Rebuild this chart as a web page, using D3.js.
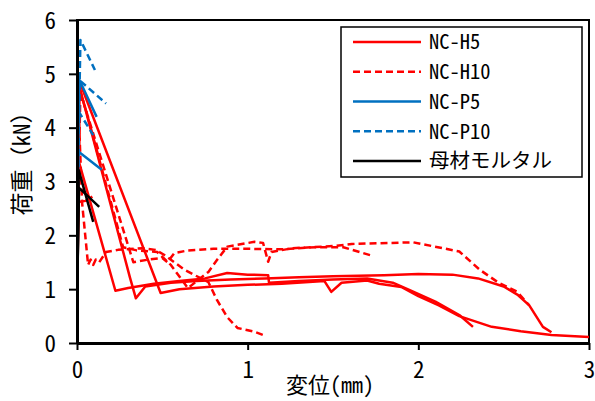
<!DOCTYPE html>
<html>
<head>
<meta charset="utf-8">
<script src="https://cdn.jsdelivr.net/npm/d3@7"></script>
<style>
  body { margin: 0; background: #fff; }
  text { font-family: "Noto Sans Mono CJK JP", "Noto Sans CJK JP", sans-serif; fill: #000; }
</style>
</head>
<body>
<svg id="chart" width="595" height="401"></svg>
<script>
// Load–displacement curves (displacement in mm, load in kN)
const xTicks = [0, 1, 2, 3];
const yTicks = [0, 1, 2, 3, 4, 5, 6];
const seriesNames = ["NC-H5", "NC-H10", "NC-P5", "NC-P10", "母材モルタル"];

// NC-H5 specimens
const h5a = [[0,0],[0.004,1.8],[0.01,3.38],[0.225,0.97],[0.3,1.02],[0.45,1.1],[0.6,1.15],[0.75,1.2],[0.88,1.3],[1.0,1.27],[1.12,1.26],[1.125,1.12],[1.3,1.15],[1.5,1.18],[1.7,1.2],[1.85,1.12],[1.95,0.98],[2.1,0.77],[2.24,0.52],[2.32,0.3]];
const h5b = [[0,0],[0.005,2.5],[0.012,4.88],[0.49,0.93],[0.6,1.0],[0.8,1.05],[1.0,1.08],[1.2,1.1],[1.45,1.15],[1.49,0.95],[1.55,1.12],[1.7,1.16],[1.77,1.1],[1.9,1.04],[2.0,0.87],[2.12,0.7],[2.24,0.5],[2.43,0.3],[2.6,0.22],[2.78,0.15],[3.0,0.11]];
const h5c = [[0,0],[0.006,2.4],[0.015,4.75],[0.31,1.22],[0.345,0.83],[0.4,1.05],[0.55,1.12],[0.7,1.15],[0.9,1.18],[1.1,1.2],[1.3,1.22],[1.5,1.24],[1.8,1.26],[2.0,1.28],[2.2,1.27],[2.35,1.2],[2.5,1.05],[2.58,0.9],[2.65,0.7],[2.73,0.3],[2.78,0.2]];
const h5d = [[0,0],[0.004,1.5],[0.008,2.62],[0.05,2.64],[0.09,2.72]];

// NC-H10 specimens
const h10a = [[0,0],[0.003,2.5],[0.006,4.6],[0.03,2.6],[0.065,1.45],[0.08,1.55],[0.095,1.45],[0.11,1.55],[0.13,1.5],[0.17,1.69],[0.24,1.73],[0.38,1.76],[0.46,1.73],[0.51,1.64],[0.57,1.5],[0.63,1.36],[0.69,1.26],[0.77,1.13],[0.82,0.8],[0.88,0.48],[0.94,0.28],[1.04,0.21],[1.09,0.15]];
const h10b = [[0,0],[0.004,2.5],[0.01,4.8],[0.04,4.45],[0.33,1.5],[0.42,1.55],[0.5,1.58],[0.53,1.5],[0.57,1.67],[0.65,1.72],[0.8,1.75],[1.0,1.75],[1.2,1.74],[1.4,1.78],[1.56,1.78],[1.73,1.62]];
const h10c = [[0,0],[0.005,2.5],[0.02,4.65],[0.05,4.35],[0.27,1.78],[0.35,1.72],[0.47,1.69],[0.55,1.45],[0.65,1.02],[0.71,1.17],[0.77,1.32],[0.82,1.54],[0.88,1.79],[1.04,1.88],[1.09,1.86],[1.12,1.51],[1.14,1.69],[1.26,1.76],[1.5,1.8],[1.61,1.84],[1.97,1.87],[2.24,1.7],[2.36,1.36],[2.47,1.12],[2.58,0.95],[2.65,0.7]];

// NC-P5 specimens
const p5a = [[0,0],[0.004,2.5],[0.012,4.9],[0.115,4.2]];
const p5b = [[0,0],[0.003,2.0],[0.006,3.56],[0.145,3.22]];

// NC-P10 specimens
const p10a = [[0,0],[0.005,3.0],[0.02,5.63],[0.105,5.07]];
const p10b = [[0,0],[0.005,3.0],[0.015,4.88],[0.17,4.45]];
const p10c = [[0,0],[0.004,2.5],[0.01,4.3],[0.095,3.86]];

// Base mortar specimens
const ma = [[0,0],[0.004,1.5],[0.01,3.21],[0.095,2.25]];
const mb = [[0,0],[0.004,1.5],[0.012,2.88],[0.13,2.53]];

const seriesCurves = [
  [h5a, h5b, h5c, h5d],
  [h10a, h10b, h10c],
  [p5a, p5b],
  [p10a, p10b, p10c],
  [ma, mb]
];
const seriesColors = ["#ff0000", "#ff0000", "#0070c0", "#0070c0", "#000000"];
const seriesDash = [null, "7,4", null, "7,4", null];

const svg = d3.select("#chart");
const plot = { left: 77, right: 589, top: 20, bottom: 343 };

const x = d3.scaleLinear().domain([0, 3]).range([plot.left, plot.right]);
const y = d3.scaleLinear().domain([0, 6]).range([plot.bottom, plot.top]);

svg.append("defs").append("clipPath").attr("id", "clip")
  .append("rect")
  .attr("x", plot.left).attr("y", plot.top - 2)
  .attr("width", plot.right - plot.left).attr("height", plot.bottom - plot.top + 2);

// Plot frame
svg.append("rect")
  .attr("x", plot.left).attr("y", plot.top)
  .attr("width", plot.right - plot.left).attr("height", plot.bottom - plot.top)
  .attr("fill", "none").attr("stroke", "#000").attr("stroke-width", 2);

// Curves
const line = d3.line().x(d => x(d[0])).y(d => y(d[1]));
const curves = svg.append("g").attr("clip-path", "url(#clip)");
seriesCurves.forEach((list, i) => {
  list.forEach(c => {
    curves.append("path")
      .datum(c)
      .attr("d", line)
      .attr("fill", "none")
      .attr("stroke", seriesColors[i])
      .attr("stroke-width", 2.5)
      .attr("stroke-linejoin", "round")
      .attr("stroke-dasharray", seriesDash[i]);
  });
});

// Axes
const gx = svg.append("g")
  .attr("transform", `translate(0,${plot.bottom})`)
  .call(d3.axisBottom(x).tickValues(xTicks).tickSize(7).tickSizeOuter(0).tickFormat(d3.format("d")));
gx.select(".domain").attr("stroke-width", 3);
gx.selectAll(".tick line").attr("stroke-width", 2);
gx.selectAll(".tick text").attr("font-size", 23).attr("dy", null).attr("y", 35);

const gy = svg.append("g")
  .attr("transform", `translate(${plot.left},0)`)
  .call(d3.axisLeft(y).tickValues(yTicks).tickSize(8).tickSizeOuter(0).tickFormat(d3.format("d")));
gy.select(".domain").attr("stroke-width", 3);
gy.selectAll(".tick line").attr("stroke-width", 2);
gy.selectAll(".tick text").attr("font-size", 23).attr("x", -21).attr("dy", "0.36em");
svg.selectAll(".tick text").attr("font-family", null);

// Axis titles
svg.append("text")
  .attr("transform", "translate(22,158) rotate(-90)")
  .attr("text-anchor", "middle").attr("dy", "0.36em")
  .attr("font-size", 23)
  .text("荷重（kN）");
svg.append("text")
  .attr("x", 330).attr("y", 393)
  .attr("text-anchor", "middle")
  .attr("font-size", 22)
  .text("変位(mm)");

// Legend
const legend = svg.append("g");
legend.append("rect")
  .attr("x", 341).attr("y", 27).attr("width", 241).attr("height", 150)
  .attr("fill", "#fff").attr("stroke", "#000").attr("stroke-width", 1.5);
const rowY = d3.scalePoint().domain(seriesNames).range([42, 161]);
seriesNames.forEach((name, i) => {
  const yy = rowY(name);
  legend.append("line")
    .attr("x1", 353).attr("x2", 421).attr("y1", yy).attr("y2", yy)
    .attr("stroke", seriesColors[i]).attr("stroke-width", 2.5)
    .attr("stroke-dasharray", seriesDash[i]);
  legend.append("text")
    .attr("x", 429).attr("y", yy).attr("dy", "0.36em")
    .attr("font-size", 20.5)
    .text(name);
});
</script>
</body>
</html>
